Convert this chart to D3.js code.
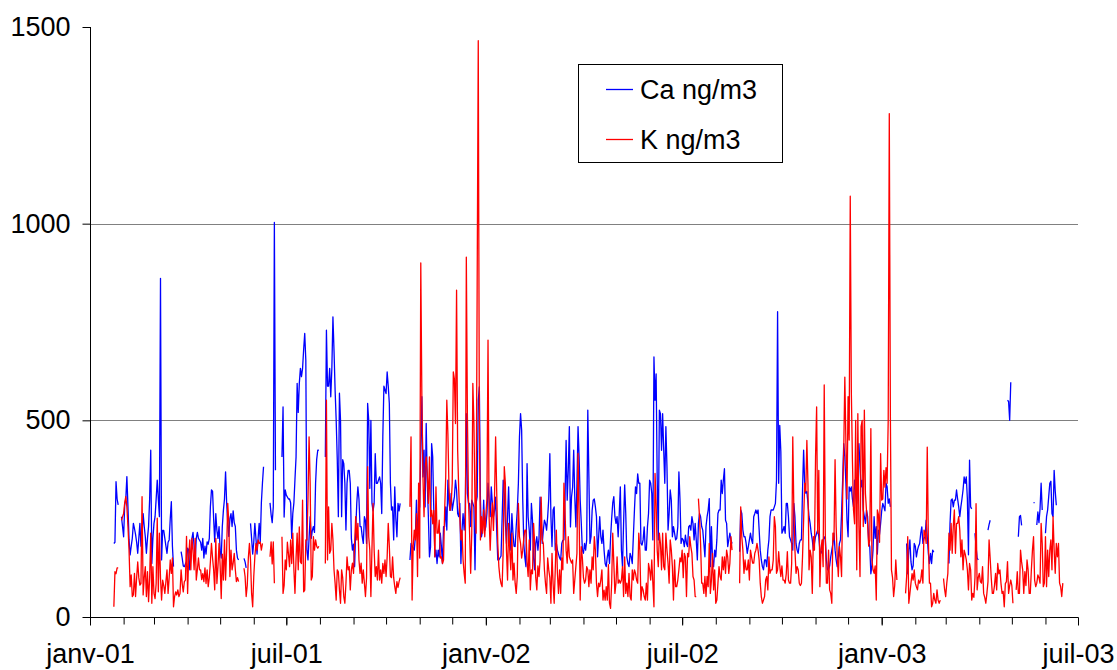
<!DOCTYPE html>
<html><head><meta charset="utf-8">
<script src="https://cdn.jsdelivr.net/npm/d3@7"></script>
<style>
body{margin:0;background:#fff}
svg{display:block}
text{font-family:"Liberation Sans",Arial,sans-serif;fill:#000}
</style>
</head><body>
<svg id="chart" width="1117" height="670"></svg>
<script>
// first value corresponds to this date, one value per day
const startDate = "2001-01-21";
const seriesNames = ["Ca ng/m3", "K ng/m3"];
const yTickValues = [0, 500, 1000, 1500];
const xDomain = ["2001-01-01", "2003-07-01"];
const monthLabels = ["janv","févr","mars","avr","mai","juin","juil","août","sept","oct","nov","déc"];

const caValues = [
null,null,187,190,344,300,285,null,null,255,
230,204,285,300,357,280,196,158,180,200,
238,225,210,190,162,200,238,180,210,263,
230,204,162,200,230,300,424,136,200,238,
255,300,348,300,255,861,145,220,220,200,
180,162,190,196,250,293,180,128,null,null,
null,null,null,null,166,150,130,128,135,140,
175,170,120,150,200,215,180,145,200,215,
200,195,190,170,200,150,180,160,191,185,
200,280,323,320,250,191,263,220,200,230,
170,150,230,271,300,369,290,240,205,250,
263,230,270,240,230,170,150,145,null,null,
null,null,149,140,125,null,null,null,238,200,
160,190,238,200,160,200,238,190,290,340,
382,null,null,null,null,null,290,260,240,280,
1003,373,null,null,null,null,null,407,534,254,
323,310,305,300,300,290,200,263,290,350,
407,594,520,594,632,611,632,680,721,653,
170,145,200,255,200,220,230,215,340,400,
424,424,null,null,null,null,null,407,729,587,
587,632,560,632,763,677,577,500,400,255,
569,500,255,400,390,340,221,340,373,373,
340,200,170,185,128,221,290,331,300,230,
230,205,187,255,245,187,543,500,327,500,
289,270,289,415,340,340,348,356,340,263,
458,587,577,568,623,587,543,340,272,280,
196,331,250,204,289,270,289,null,null,null,
null,null,null,null,null,145,187,180,175,170,
204,297,196,270,280,424,560,356,424,280,
492,340,255,153,178,441,407,271,153,170,
136,170,153,213,180,136,230,230,280,221,
348,289,271,314,271,289,306,348,323,263,
255,289,136,221,263,221,271,517,314,289,
289,230,297,289,280,120,289,306,551,585,
300,204,221,297,220,230,263,340,300,255,
331,290,255,270,305,221,145,145,150,155,
250,348,314,240,187,255,331,221,170,263,
213,180,179,230,272,340,458,517,475,300,
187,150,128,390,255,221,170,289,246,150,
120,187,204,170,200,305,250,187,221,246,
238,221,255,300,415,255,179,272,280,170,
187,170,160,150,145,187,195,196,300,449,
297,373,484,229,305,330,424,305,229,340,
484,407,297,238,170,162,187,170,196,526,
357,187,204,271,297,300,280,255,153,204,
255,204,187,221,170,136,128,153,170,136,
200,250,290,306,255,238,255,204,263,331,
170,128,238,336,263,153,136,128,162,153,
136,204,271,331,314,364,340,340,187,183,
196,229,170,170,229,263,348,340,314,196,
661,551,618,350,196,526,517,424,517,424,
340,484,382,221,263,323,297,204,230,213,
196,200,230,369,300,187,200,196,179,208,
187,179,229,233,221,255,238,196,238,196,
145,238,263,255,230,221,187,153,230,255,
272,301,128,230,145,128,170,153,196,263,
272,272,348,314,348,377,246,238,179,196,
213,196,187,null,null,null,null,null,null,166,
272,263,221,204,204,187,162,179,196,213,
196,187,255,263,272,263,272,221,170,145,
128,120,145,145,128,170,196,255,272,272,
272,280,289,347,776,340,487,420,213,220,
230,213,289,289,255,204,196,187,170,289,
255,187,170,162,187,196,196,323,424,340,
315,319,289,255,238,213,196,170,187,204,
213,221,204,170,162,170,196,204,196,145,
120,120,130,153,170,187,213,170,145,128,
153,187,196,263,348,441,407,340,246,204,
331,320,331,300,280,348,323,289,407,441,
382,331,348,272,255,238,272,255,190,179,
110,130,170,255,200,230,160,221,210,238,
270,289,280,270,340,331,289,300,280,null,
null,null,null,null,null,null,null,null,null,null,
null,null,null,187,110,170,196,140,120,130,
187,180,153,170,180,187,213,229,187,200,
204,246,204,162,136,162,136,170,165,null,
null,null,null,null,null,null,null,null,null,null,
null,null,136,238,297,300,280,297,297,323,
300,280,255,280,300,323,356,340,356,300,
158,399,280,275,null,null,213,180,150,145,
null,null,null,null,null,null,null,null,221,235,
246,null,null,null,null,null,null,null,null,null,
null,null,null,null,null,null,551,548,500,597,
null,null,null,null,null,null,204,255,258,233,
null,null,null,null,null,null,null,null,null,null,
291,291,null,234,267,240,275,340,272,null,
null,213,255,272,306,340,345,263,255,373,
320,284,null,null,null,null,null,null,null,null
];

const kValues = [
null,null,26,115,110,125,125,null,null,246,
255,263,290,306,280,230,170,77,107,52,
56,111,52,100,140,100,81,85,306,56,
100,128,52,115,39,100,213,35,128,60,
47,85,251,64,213,100,43,94,80,60,
90,120,60,100,145,111,150,26,52,64,
56,69,52,60,120,85,64,90,94,205,
60,154,196,120,200,170,120,200,94,120,
150,120,120,95,110,90,125,85,120,77,
100,140,187,150,120,69,200,85,128,187,
130,47,160,94,196,94,170,289,240,103,
170,120,137,162,120,90,100,90,null,null,
null,null,124,103,52,80,150,187,145,60,
26,103,153,187,170,196,187,190,170,187,
null,null,null,null,null,null,153,191,135,191,
86,null,null,null,null,null,null,204,60,80,
145,120,190,160,128,196,136,213,120,60,
150,213,120,229,140,136,297,64,68,196,
196,300,458,340,94,103,204,170,196,180,
175,180,null,null,null,null,null,136,551,145,
280,162,170,238,196,120,86,43,120,115,
69,35,120,100,52,35,86,153,120,128,
69,120,137,111,187,255,196,238,145,111,
137,86,120,86,52,100,382,204,170,52,
175,289,170,103,128,94,170,94,120,86,
136,111,145,103,153,238,180,103,100,153,
100,77,60,90,75,90,100,null,null,null,
null,null,null,null,null,280,458,43,180,221,
196,263,103,340,150,900,560,356,255,380,
407,363,289,407,255,271,237,271,153,331,
213,213,246,150,153,136,145,271,356,551,
465,330,271,289,340,623,605,492,831,424,
322,255,196,221,145,111,86,915,509,297,
213,111,213,594,492,289,213,848,1465,500,
196,255,213,272,204,260,300,704,255,170,
246,290,220,305,458,320,187,128,100,85,
77,170,382,340,170,94,238,170,120,213,
94,137,86,60,103,289,204,187,150,170,
200,221,221,140,103,196,69,120,110,238,
187,100,69,130,103,145,305,196,187,120,
85,60,150,120,100,35,162,85,35,120,
221,110,60,120,60,150,120,340,272,170,
137,204,153,145,137,145,60,94,128,162,
416,255,43,179,150,100,86,94,128,120,
77,120,86,153,120,204,170,86,52,86,
77,94,120,43,68,43,77,43,133,35,
22,86,213,137,60,86,153,86,94,86,
94,128,52,153,60,86,52,111,52,43,
120,94,120,111,94,86,213,170,43,77,
69,52,43,86,43,136,120,94,145,86,
26,365,289,170,128,213,187,120,213,128,
120,213,170,137,86,196,170,128,43,145,
77,77,94,120,150,140,170,100,162,153,
52,162,153,204,179,162,103,94,52,52,
null,301,255,187,86,86,60,103,52,103,
77,187,60,94,162,69,120,35,43,86,
128,103,94,153,120,153,111,170,153,111,
137,204,170,null,null,null,null,null,null,86,
280,204,170,111,145,120,120,145,94,170,
153,137,137,162,170,187,170,145,86,52,
35,43,52,94,103,69,153,111,120,120,
145,255,230,111,120,166,130,103,130,94,
94,86,110,166,94,86,86,137,458,272,
170,111,128,120,86,80,86,153,246,340,
320,449,340,120,170,153,60,204,170,407,
534,213,373,77,170,196,128,590,213,86,
86,170,69,60,35,213,196,400,230,153,
103,179,153,103,306,424,610,443,300,560,
450,1070,572,400,272,237,500,120,517,230,
103,484,500,230,526,314,270,237,180,196,
479,145,120,111,130,43,272,260,190,415,
297,300,373,330,380,340,501,1280,510,120,
100,52,80,145,94,null,null,null,null,null,
null,null,60,103,204,35,60,86,110,94,
120,86,77,69,94,86,94,120,86,221,
213,187,432,200,86,86,26,35,60,43,
35,69,43,35,43,null,null,98,70,52,
86,111,213,170,238,162,230,272,162,238,
238,255,221,153,196,120,170,160,145,120,
69,136,120,43,60,50,100,288,69,100,
111,90,86,128,60,50,35,60,90,196,
150,100,60,60,80,111,69,136,110,120,
85,60,65,26,85,90,141,60,80,94,
80,35,null,null,69,115,60,60,170,140,
120,60,115,80,145,120,60,60,120,170,
204,94,77,86,107,100,86,238,187,77,
86,204,77,170,103,170,196,120,255,170,
111,187,153,187,86,77,52,86,null,null
];

const seriesColors = ["#0000FF", "#FF0000"];
const fontSize = 27;

const svg = d3.select("#chart");
const margin = {left: 90, right: 1078, top: 27, bottom: 617};

const parse = d3.utcParse("%Y-%m-%d");
const t0 = parse(startDate);
const toSeries = vals => vals.map((v, i) => ({date: d3.utcDay.offset(t0, i), v: v}));
const series = [toSeries(caValues), toSeries(kValues)];

const x = d3.scaleUtc().domain(xDomain.map(parse)).range([margin.left, margin.right]);
const y = d3.scaleLinear().domain([0, 1500]).range([margin.bottom, margin.top]);

// gridlines
svg.append("g").selectAll("line").data(yTickValues.filter(v => v > 0 && v < 1500)).join("line")
  .attr("x1", margin.left).attr("x2", margin.right)
  .attr("y1", d => Math.round(y(d)) + 0.5).attr("y2", d => Math.round(y(d)) + 0.5)
  .attr("stroke", "#808080").attr("stroke-width", 1);

// series lines
const line = d3.line().defined(d => d.v != null).x(d => x(d.date)).y(d => y(d.v));
series.forEach((s, i) => {
  svg.append("path").datum(s).attr("d", line)
    .attr("fill", "none").attr("stroke", seriesColors[i])
    .attr("stroke-width", 1.3).attr("stroke-linejoin", "round");
});

// y axis
const yAxis = d3.axisLeft(y).tickValues(yTickValues).tickSize(8).tickPadding(12).tickFormat(d3.format("d"));
const gy = svg.append("g").attr("transform", `translate(${margin.left + 0.5},0)`).call(yAxis);
gy.select(".domain").attr("stroke", "#000").attr("d", `M0,${margin.top}V${margin.bottom + 0.5}`);
gy.selectAll(".tick line").attr("stroke", "#000");
gy.selectAll(".tick text").attr("font-size", fontSize).attr("font-family", "Liberation Sans, Arial, sans-serif").attr("fill", "#000");

// x axis: minor monthly ticks, major every 6 months with labels
const fmt = d => monthLabels[d.getUTCMonth()] + "-" + d3.utcFormat("%y")(d);
const xMinor = d3.axisBottom(x).ticks(d3.utcMonth.every(1)).tickSize(7).tickFormat("");
const gxm = svg.append("g").attr("transform", `translate(0,${margin.bottom + 0.5})`).call(xMinor);
gxm.select(".domain").attr("stroke", "#000").attr("d", `M${margin.left},0H${margin.right}`);
gxm.selectAll(".tick line").attr("stroke", "#000");
const xMajor = d3.axisBottom(x).ticks(d3.utcMonth.every(6)).tickSize(8).tickPadding(18).tickFormat(fmt);
const gx = svg.append("g").attr("transform", `translate(0,${margin.bottom + 0.5})`).call(xMajor);
gx.select(".domain").remove();
gx.selectAll(".tick line").attr("stroke", "#000");
gx.selectAll(".tick text").attr("font-size", fontSize).attr("font-family", "Liberation Sans, Arial, sans-serif").attr("fill", "#000");

// legend
const lg = svg.append("g");
lg.append("rect").attr("x", 578.5).attr("y", 64.5).attr("width", 204).attr("height", 98)
  .attr("fill", "#fff").attr("stroke", "#000").attr("stroke-width", 1);
seriesNames.forEach((n, i) => {
  const cy = [89.5, 139.5][i];
  lg.append("line").attr("x1", 606).attr("x2", 633).attr("y1", cy).attr("y2", cy)
    .attr("stroke", seriesColors[i]).attr("stroke-width", 1.3);
  lg.append("text").attr("x", 640).attr("y", cy + 9.5).attr("font-size", fontSize).text(n);
});
</script>
</body></html>
